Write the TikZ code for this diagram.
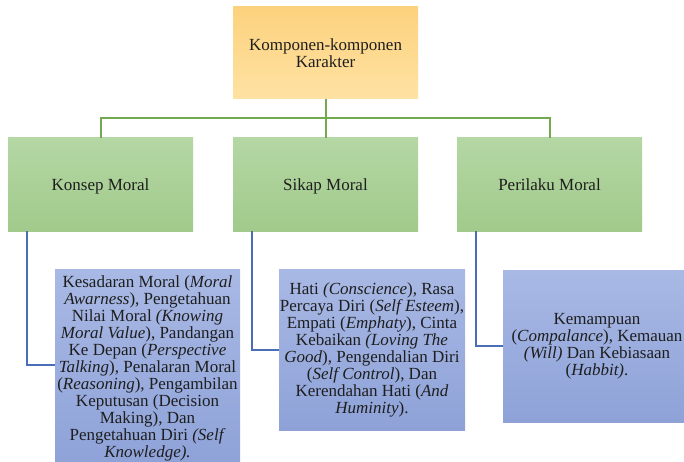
\documentclass[tikz,border=0pt]{standalone}
\usepackage{fontspec}
\setmainfont{Liberation Serif}
\definecolor{orTop}{HTML}{FDD27E}
\definecolor{orBot}{HTML}{FEE2A3}
\definecolor{grTop}{HTML}{B4D7A4}
\definecolor{grBot}{HTML}{A1CA8B}
\definecolor{blTop}{HTML}{A9B9E5}
\definecolor{blBot}{HTML}{8EA2D8}
\definecolor{gLine}{HTML}{72A94F}
\definecolor{bLine}{HTML}{4A6DB8}
\definecolor{txt}{HTML}{1E1E1E}
\begin{document}
\begin{tikzpicture}[x=1pt,y=-1pt,
  every node/.style={inner sep=0pt,outer sep=0pt,text=txt,align=center,
    font={\fontsize{17}{17}\selectfont\lineskiplimit=-30pt\relax}},
  topbox/.style={top color=orTop,bottom color=orBot,minimum width=185pt,minimum height=92pt},
  greenbox/.style={top color=grTop,bottom color=grBot,minimum width=185pt,minimum height=93pt,
    text height=13pt,text depth=0pt},
  bluebox/.style={top color=blTop,bottom color=blBot},
  gline/.style={draw=gLine,line width=2pt},
  bline/.style={draw=bLine,line width=2pt}]
\useasboundingbox (0,0) rectangle (684,462);
\fill[white] (0,0) rectangle (684,462);

\node[topbox] (top) at (325.5,53) {Komponen-komponen\\Karakter};

\node[greenbox] (kon) at (100.5,184.5) {Konsep Moral};
\node[greenbox] (sik) at (325.5,184.5) {Sikap Moral};
\node[greenbox] (per) at (549.5,184.5) {Perilaku Moral};

\coordinate (bus) at (0,118);
\draw[gline] (top.south) -- (top.south |- bus) -| (kon.north);
\draw[gline] (top.south) -- (top.south |- bus) -| (sik.north);
\draw[gline] (top.south) -- (top.south |- bus) -| (per.north);

\node[bluebox,minimum width=185pt,minimum height=199pt] (b1) at (147.5,368.5)
  {Kesadaran Moral (\textit{Moral}\\
   \textit{Awarness}), Pengetahuan\\
   Nilai Moral \textit{(Knowing}\\
   \textit{Moral Value}), Pandangan\\
   Ke Depan (\textit{Perspective}\\
   \textit{Talking}), Penalaran Moral\\
   (\textit{Reasoning}), Pengambilan\\
   Keputusan (Decision\\
   Making), Dan\\
   Pengetahuan Diri \textit{(Self}\\
   \textit{Knowledge).}};

\node[bluebox,minimum width=186pt,minimum height=161pt] (b2) at (372,349.5)
  {Hati \textit{(Conscience}), Rasa\\
   Percaya Diri (\textit{Self Esteem}),\\
   Empati (\textit{Emphaty}), Cinta\\
   Kebaikan \textit{(Loving The}\\
   \textit{Good}), Pengendalian Diri\\
   (\textit{Self Control}), Dan\\
   Kerendahan Hati (\textit{And}\\
   \textit{Huminity}).};

\node[bluebox,minimum width=188pt,minimum height=152pt] (b3) at (597,346)
  {Kemampuan\\
   (\textit{Compalance}), Kemauan\\
   \textit{(Will)} Dan Kebiasaan\\
   (\textit{Habbit)}.};

\draw[bline] ([xshift=19pt]kon.south west) |- ([yshift=3.5pt]b1.west);
\draw[bline] ([xshift=19pt]sik.south west) |- (b2.west);
\draw[bline] ([xshift=19pt]per.south west) |- (b3.west);
\end{tikzpicture}
\end{document}
